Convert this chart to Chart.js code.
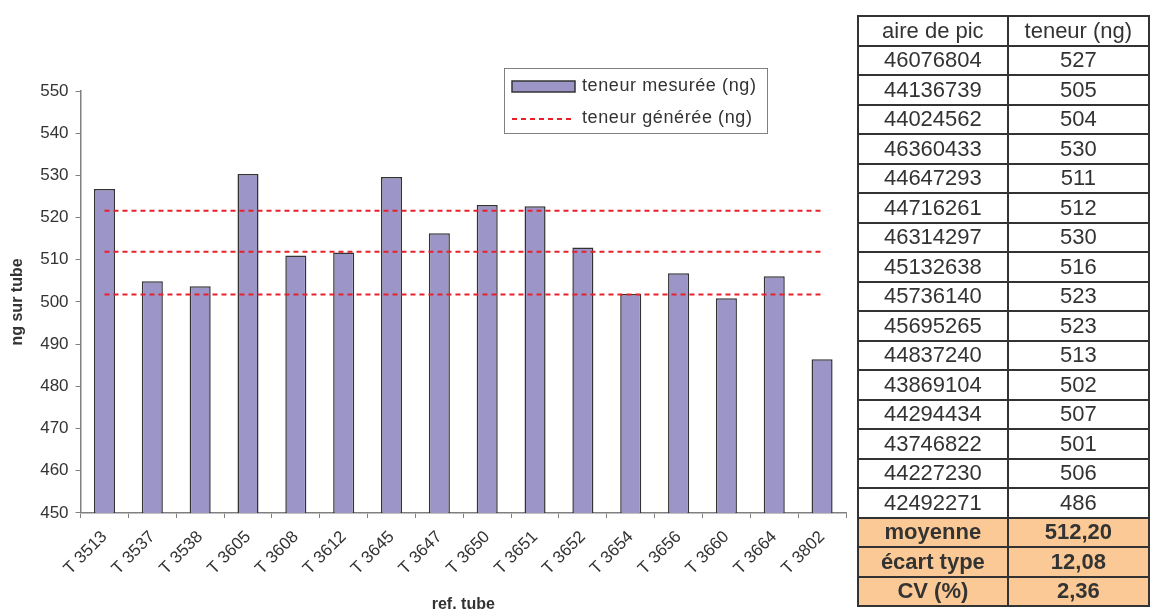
<!DOCTYPE html>
<html lang="fr">
<head>
<meta charset="utf-8">
<title>teneur mesurée</title>
<script src="https://cdn.jsdelivr.net/npm/chart.js@4.4.1/dist/chart.umd.min.js"></script>
<style>
  html, body { margin: 0; padding: 0; background: #fff; overflow: hidden; width: 1150px; height: 609px; }
  #wrap { position: absolute; left: 0; top: 0; width: 860px; height: 614px; }
  #tbl {
    position: absolute; left: 857px; top: 15px;
    border-collapse: collapse; table-layout: fixed;
    font-family: 'Liberation Sans', Arial, sans-serif; font-size: 22px; color: #333;
  }
  #tbl td { border: 2px solid #333; padding: 0; text-align: center; height: 27.5px; line-height: 26px; }
  #tbl tr.stat td { background: #fbc995; font-weight: bold; }
</style>
</head>
<body>
<div id="wrap"><canvas id="chart"></canvas></div>
<table id="tbl"><colgroup><col style="width:153px"><col style="width:146px"></colgroup><tbody></tbody></table>
<script>
const categories = ['T 3513', 'T 3537', 'T 3538', 'T 3605', 'T 3608', 'T 3612', 'T 3645', 'T 3647',
  'T 3650', 'T 3651', 'T 3652', 'T 3654', 'T 3656', 'T 3660', 'T 3664', 'T 3802'];
const teneurMesuree = [526.8, 504.9, 503.7, 530.3, 511.0, 511.7, 529.6, 516.3,
  523.0, 522.7, 512.9, 501.9, 506.8, 500.9, 506.1, 486.4];
const teneurGeneree = [501.8, 511.9, 521.6];
const yTicks = { min: 450, max: 550, step: 10 };

const aireDePic = ['46076804', '44136739', '44024562', '46360433', '44647293', '44716261', '46314297', '45132638',
  '45736140', '45695265', '44837240', '43869104', '44294434', '43746822', '44227230', '42492271'];
const teneurTable = ['527', '505', '504', '530', '511', '512', '530', '516',
  '523', '523', '513', '502', '507', '501', '506', '486'];
const statLabels = ['moyenne', 'écart type', 'CV (%)'];
const statValues = ['512,20', '12,08', '2,36'];

const FONT = "'Liberation Sans', Arial, sans-serif";
const TXT = '#333';
const BAR = '#9b95c8';
const RED = '#e8202a';

// table on the right
const tbody = document.querySelector('#tbl tbody');
function addRow(a, b, cls) {
  const tr = document.createElement('tr');
  if (cls) tr.className = cls;
  [a, b].forEach(t => { const td = document.createElement('td'); td.textContent = t; tr.appendChild(td); });
  tbody.appendChild(tr);
}
addRow('aire de pic', 'teneur (ng)');
aireDePic.forEach((a, i) => addRow(a, teneurTable[i]));
statLabels.forEach((s, i) => addRow(s, statValues[i], 'stat'));

// boxed legend inside the plot
const boxLegend = {
  id: 'boxLegend',
  afterDraw(chart) {
    const ctx = chart.ctx;
    const x = 504, y = 68, w = 263, h = 65;
    ctx.save();
    ctx.strokeStyle = '#808080';
    ctx.lineWidth = 1;
    ctx.strokeRect(x + 0.5, y + 0.5, w, h);
    ctx.fillStyle = BAR;
    ctx.fillRect(x + 8, y + 13, 63, 11);
    ctx.strokeStyle = '#333';
    ctx.lineWidth = 1.5;
    ctx.strokeRect(x + 8, y + 13, 63, 11);
    ctx.strokeStyle = RED;
    ctx.lineWidth = 2;
    ctx.setLineDash([5, 4]);
    ctx.beginPath();
    ctx.moveTo(x + 8, y + 51);
    ctx.lineTo(x + 71, y + 51);
    ctx.stroke();
    ctx.setLineDash([]);
    ctx.fillStyle = TXT;
    ctx.font = '18px ' + FONT;
    ctx.letterSpacing = '0.6px';
    ctx.textBaseline = 'middle';
    ctx.fillText(chart.data.datasets[0].label, x + 78, y + 18);
    ctx.fillText(chart.data.datasets[1].label, x + 78, y + 50);
    ctx.restore();
  }
};

const lineSets = teneurGeneree.map(v => ({
  type: 'line',
  label: 'teneur générée (ng)',
  data: categories.map(() => v),
  borderColor: RED,
  borderWidth: 2,
  borderDash: [5, 4],
  pointRadius: 0,
  fill: false,
  order: 0
}));

new Chart(document.getElementById('chart'), {
  type: 'bar',
  data: {
    labels: categories,
    datasets: [{
      label: 'teneur mesurée (ng)',
      data: teneurMesuree,
      backgroundColor: BAR,
      borderColor: '#333',
      borderWidth: 1.5,
      barPercentage: 0.44,
      categoryPercentage: 1,
      order: 1
    }].concat(lineSets)
  },
  options: {
    responsive: true,
    maintainAspectRatio: false,
    animation: false,
    layout: { padding: { top: 91, right: 14, left: 4, bottom: 0 } },
    plugins: { legend: { display: false }, tooltip: { enabled: false } },
    scales: {
      x: {
        grid: { drawOnChartArea: false, drawTicks: true, tickLength: 5, color: '#808080' },
        border: { color: '#808080', width: 1.5 },
        ticks: { color: TXT, font: { family: FONT, size: 17 }, minRotation: 45, maxRotation: 45, padding: 9 },
        title: { display: true, text: 'ref. tube', color: TXT, font: { family: FONT, size: 16, weight: 'bold' }, padding: { top: 7, bottom: 0 } }
      },
      y: {
        min: yTicks.min,
        max: yTicks.max,
        grid: { drawOnChartArea: false, drawTicks: true, tickLength: 5, color: '#808080' },
        border: { color: '#808080', width: 1.5 },
        ticks: { stepSize: yTicks.step, color: TXT, font: { family: FONT, size: 17 }, padding: 7 },
        title: { display: true, text: 'ng sur tube', color: TXT, font: { family: FONT, size: 16, weight: 'bold' }, padding: { top: 4, bottom: 6 } }
      }
    }
  },
  plugins: [boxLegend]
});
</script>
</body>
</html>
